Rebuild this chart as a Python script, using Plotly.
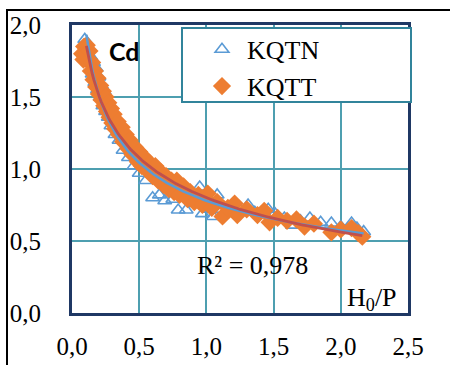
import numpy as np
import plotly.graph_objects as go

# KQTN (open triangles)
kqtn_x = [0.095, 0.11, 0.12, 0.13, 0.14, 0.15, 0.16, 0.17, 0.18, 0.19, 0.20, 0.21, 0.22, 0.23, 0.24,
          0.25, 0.26, 0.27, 0.28, 0.29, 0.30, 0.32, 0.33, 0.35, 0.36, 0.38, 0.40, 0.42, 0.44, 0.46,
          0.48, 0.50, 0.52, 0.55, 0.57, 0.60, 0.62, 0.65, 0.67, 0.69, 0.72, 0.75, 0.77, 0.79, 0.82,
          0.85, 0.88, 0.92, 0.95, 0.97, 1.00, 1.02, 1.05, 1.08, 1.12, 1.18, 1.24, 1.31, 1.36, 1.41,
          1.46, 1.51, 1.58, 1.64, 1.70, 1.77, 1.85, 1.93, 2.00, 2.08, 2.12, 2.17]
kqtn_y = [1.90, 1.84, 1.80, 1.74, 1.78, 1.66, 1.74, 1.60, 1.70, 1.55, 1.64, 1.50, 1.58, 1.44, 1.54,
          1.40, 1.48, 1.36, 1.42, 1.30, 1.38, 1.24, 1.33, 1.20, 1.30, 1.13, 1.20, 1.08, 1.15, 1.02,
          1.10, 0.97, 1.05, 0.92, 1.00, 0.80, 0.96, 0.82, 0.92, 0.78, 0.88, 0.79, 0.86, 0.715, 0.82,
          0.715, 0.80, 0.76, 0.875, 0.69, 0.77, 0.72, 0.67, 0.82, 0.72, 0.70, 0.73, 0.75, 0.70, 0.69,
          0.72, 0.69, 0.66, 0.61, 0.64, 0.66, 0.63, 0.625, 0.60, 0.625, 0.59, 0.565]

# KQTT (filled diamonds)
kqtt_x = [0.075, 0.085, 0.09, 0.10, 0.11, 0.12, 0.13, 0.14, 0.15, 0.16, 0.17, 0.18, 0.19, 0.20, 0.21,
          0.22, 0.23, 0.24, 0.25, 0.26, 0.27, 0.28, 0.29, 0.30, 0.31, 0.32, 0.34, 0.35, 0.37, 0.38,
          0.40, 0.42, 0.43, 0.45, 0.47, 0.49, 0.50, 0.52, 0.54, 0.56, 0.58, 0.60, 0.62, 0.64, 0.66,
          0.68, 0.70, 0.72, 0.74, 0.76, 0.78, 0.80, 0.83, 0.86, 0.88, 0.91, 0.94, 0.97, 1.01, 1.04,
          1.08, 1.12, 1.16, 1.21, 1.23, 1.30, 1.38, 1.43, 1.47, 1.53, 1.60, 1.67, 1.73, 1.80, 1.93,
          2.00, 2.08, 2.13, 2.16]
kqtt_y = [1.80, 1.76, 1.85, 1.80, 1.86, 1.75, 1.82, 1.68, 1.74, 1.62, 1.68, 1.57, 1.63, 1.52, 1.58,
          1.48, 1.54, 1.44, 1.50, 1.40, 1.46, 1.36, 1.42, 1.32, 1.38, 1.28, 1.33, 1.24, 1.29, 1.19,
          1.24, 1.14, 1.20, 1.10, 1.15, 1.05, 1.12, 1.02, 1.08, 0.99, 1.04, 0.95, 1.02, 0.92, 0.98,
          0.89, 0.95, 0.86, 0.92, 0.84, 0.92, 0.82, 0.88, 0.79, 0.84, 0.77, 0.82, 0.75, 0.83, 0.73,
          0.77, 0.67, 0.73, 0.76, 0.68, 0.72, 0.68, 0.71, 0.63, 0.66, 0.64, 0.65, 0.60, 0.62, 0.56,
          0.58, 0.59, 0.555, 0.53]

x_ticks = [0.0, 0.5, 1.0, 1.5, 2.0, 2.5]
y_ticks = [0.0, 0.5, 1.0, 1.5, 2.0]
r2_text = "R² = 0,978"

SERIF = "Times New Roman, Liberation Serif, serif"
BLUE = "#5B9BD5"
ORANGE = "#ED7D31"
RED = "#C0504D"
NAVY = "#1F3864"
GRID = "#4E9FB0"


def trend(xs, ys, x_start):
    xs, ys = np.asarray(xs), np.asarray(ys)
    best = None
    for c in np.linspace(-1.0, 0.5, 301):
        if ys.min() - c <= 0:
            continue
        p = np.polyfit(np.log(xs), np.log(ys - c), 1)
        pred = np.exp(np.polyval(p, np.log(xs))) + c
        sse = ((pred - ys) ** 2).sum()
        if best is None or sse < best[0]:
            best = (sse, p, c)
    _, p, c = best
    xx = np.linspace(x_start, xs.max(), 150)
    return xx, np.exp(np.polyval(p, np.log(xx))) + c


fig = go.Figure()
fig.add_trace(go.Scatter(x=kqtn_x, y=kqtn_y, mode="markers", name="KQTN",
                         marker=dict(symbol="triangle-up-open", size=12, color=BLUE,
                                     line=dict(width=1.6, color=BLUE))))
fig.add_trace(go.Scatter(x=kqtt_x, y=kqtt_y, mode="markers", name="KQTT",
                         marker=dict(symbol="diamond", size=14, color=ORANGE,
                                     line=dict(width=0))))
tx, ty = trend(kqtn_x, kqtn_y, 0.107)
fig.add_trace(go.Scatter(x=tx, y=ty, mode="lines", showlegend=False,
                         line=dict(color=BLUE, width=2.5)))
tx, ty = trend(kqtt_x, kqtt_y, 0.107)
fig.add_trace(go.Scatter(x=tx, y=ty, mode="lines", showlegend=False,
                         line=dict(color=RED, width=2.8)))

fig.update_layout(
    width=450, height=365,
    margin=dict(l=72, r=42, t=25, b=52),
    paper_bgcolor="white", plot_bgcolor="white",
    separators=",.",
    font=dict(family=SERIF, size=25, color="black"),
    showlegend=True,
    legend=dict(x=0.372, y=0.997, xanchor="left", yanchor="top",
                bgcolor="rgba(0,0,0,0)", borderwidth=0,
                font=dict(family=SERIF, size=26, color="black"),
                itemwidth=40),
    xaxis=dict(range=[0, 2.5], tickvals=x_ticks, tickformat=".1f", ticks="",
               showgrid=True, gridcolor=GRID, gridwidth=2, zeroline=False,
               showline=True, linecolor=NAVY, linewidth=3, mirror=True,
               automargin=False,
               ticklabelstandoff=9, tickfont=dict(family=SERIF, size=25)),
    yaxis=dict(range=[0, 2.0], tickvals=y_ticks, tickformat=".1f", ticks="",
               showgrid=True, gridcolor=GRID, gridwidth=2, zeroline=False,
               showline=True, linecolor=NAVY, linewidth=3, mirror=True,
               automargin=False,
               ticklabelstandoff=23, tickfont=dict(family=SERIF, size=25)),
    shapes=[
        dict(type="rect", xref="paper", yref="paper",
             x0=(182 - 72) / 336, x1=(411 - 72) / 336,
             y0=(313 - 102) / 288, y1=(313 - 28) / 288,
             fillcolor="white", line=dict(color="#31849B", width=2), layer="above"),
        dict(type="rect", xref="paper", yref="paper",
             x0=(7 - 72) / 336, x1=(460 - 72) / 336,
             y0=(313 - 380) / 288, y1=(313 - 10) / 288,
             line=dict(color="black", width=2), fillcolor="rgba(0,0,0,0)", layer="above"),
    ],
    annotations=[
        dict(x=0.39, y=1.82, xref="x", yref="y",
             text="<b>Cd</b>", showarrow=False,
             font=dict(family="Lato", size=25, color="black")),
        dict(x=1.34, y=0.333, xref="x", yref="y", text=r2_text, showarrow=False,
             font=dict(family=SERIF, size=26, color="black")),
        dict(x=2.23, y=0.10, xref="x", yref="y", text="H<sub>0</sub>/P", showarrow=False,
             font=dict(family=SERIF, size=26, color="black")),
    ],
)

fig.write_html("out.html")
